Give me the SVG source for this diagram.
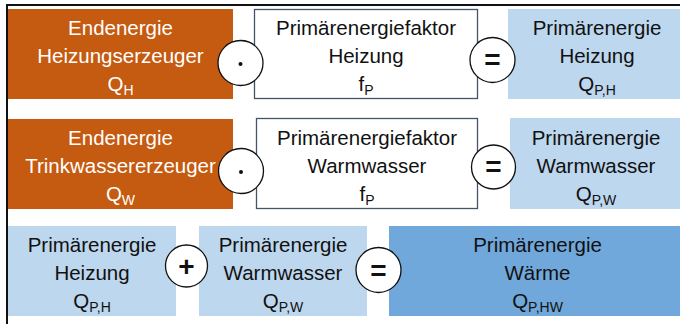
<svg xmlns="http://www.w3.org/2000/svg" width="680" height="324" viewBox="0 0 680 324">
  <style>
    text { font-family: "Liberation Sans", Arial, sans-serif; font-size: 20.5px; text-anchor: middle; fill: #111; }
    .light { fill: #ffffff; }
    .sub { font-size: 14px; }
    .end { fill: #c55a11; }
    .factor { fill: #ffffff; stroke: #44546a; stroke-width: 1.3; }
    .prim { fill: #bdd7ee; }
    .total { fill: #71a8db; }
    .op { fill: #ffffff; stroke: #111; stroke-width: 1.3; }
    .opsign { font-size: 28px; font-weight: bold; }
    .frame { stroke: #111; stroke-width: 2; fill: none; }
  </style>

  <!-- outer frame (top and left edges) -->
  <path class="frame" d="M680 5 H7 V324"/>

  <!-- row 1: heating -->
  <g id="endenergie-heizung">
    <rect class="end" x="8" y="9" width="225" height="90"/>
    <text class="light" x="120.5" y="35">Endenergie</text>
    <text class="light" x="120.5" y="63">Heizungserzeuger</text>
    <text class="light" x="120.5" y="91">Q<tspan class="sub" dy="4">H</tspan></text>
  </g>
  <g id="faktor-heizung">
    <rect class="factor" x="254.5" y="9.5" width="223" height="89"/>
    <text x="366" y="35">Primärenergiefaktor</text>
    <text x="366" y="63">Heizung</text>
    <text x="366" y="91">f<tspan class="sub" dy="4">P</tspan></text>
  </g>
  <g id="primaer-heizung">
    <rect class="prim" x="508" y="9" width="178" height="90"/>
    <text x="597" y="35">Primärenergie</text>
    <text x="597" y="63">Heizung</text>
    <text x="597" y="91">Q<tspan class="sub" dy="4">P,H</tspan></text>
  </g>

  <!-- row 2: domestic hot water -->
  <g id="endenergie-warmwasser">
    <rect class="end" x="8" y="119" width="225" height="90"/>
    <text class="light" x="120.5" y="145">Endenergie</text>
    <text class="light" x="120.5" y="173">Trinkwassererzeuger</text>
    <text class="light" x="120.5" y="201">Q<tspan class="sub" dy="4">W</tspan></text>
  </g>
  <g id="faktor-warmwasser">
    <rect class="factor" x="256.5" y="118.5" width="221" height="90"/>
    <text x="367" y="145">Primärenergiefaktor</text>
    <text x="367" y="173">Warmwasser</text>
    <text x="367" y="201">f<tspan class="sub" dy="4">P</tspan></text>
  </g>
  <g id="primaer-warmwasser">
    <rect class="prim" x="510" y="118" width="176" height="91"/>
    <text x="596" y="145">Primärenergie</text>
    <text x="596" y="173">Warmwasser</text>
    <text x="596" y="201">Q<tspan class="sub" dy="4">P,W</tspan></text>
  </g>

  <!-- row 3: sum -->
  <g id="summe-heizung">
    <rect class="prim" x="8" y="226" width="168" height="90"/>
    <text x="92" y="252">Primärenergie</text>
    <text x="92" y="280">Heizung</text>
    <text x="92" y="308">Q<tspan class="sub" dy="4">P,H</tspan></text>
  </g>
  <g id="summe-warmwasser">
    <rect class="prim" x="199" y="226" width="168" height="90"/>
    <text x="283" y="252">Primärenergie</text>
    <text x="283" y="280">Warmwasser</text>
    <text x="283" y="308">Q<tspan class="sub" dy="4">P,W</tspan></text>
  </g>
  <g id="primaer-waerme">
    <rect class="total" x="389" y="226" width="297" height="90"/>
    <text x="537.5" y="252">Primärenergie</text>
    <text x="537.5" y="280">Wärme</text>
    <text x="537.5" y="308">Q<tspan class="sub" dy="4">P,HW</tspan></text>
  </g>

  <!-- operators -->
  <g id="operators">
    <circle class="op" cx="240.5" cy="63" r="22.5"/>
    <circle cx="240.5" cy="64" r="2" fill="#111"/>
    <circle class="op" cx="492.5" cy="60" r="22.5"/>
    <text class="opsign" x="492.5" y="69">=</text>

    <circle class="op" cx="241" cy="171" r="22.5"/>
    <circle cx="241" cy="172" r="2" fill="#111"/>
    <circle class="op" cx="493.5" cy="167" r="22"/>
    <text class="opsign" x="493.5" y="176">=</text>

    <circle class="op" cx="186.5" cy="266" r="21"/>
    <text class="opsign" x="186.5" y="276">+</text>
    <circle class="op" cx="378.5" cy="270" r="22.5"/>
    <text class="opsign" x="378.5" y="280">=</text>
  </g>
</svg>
